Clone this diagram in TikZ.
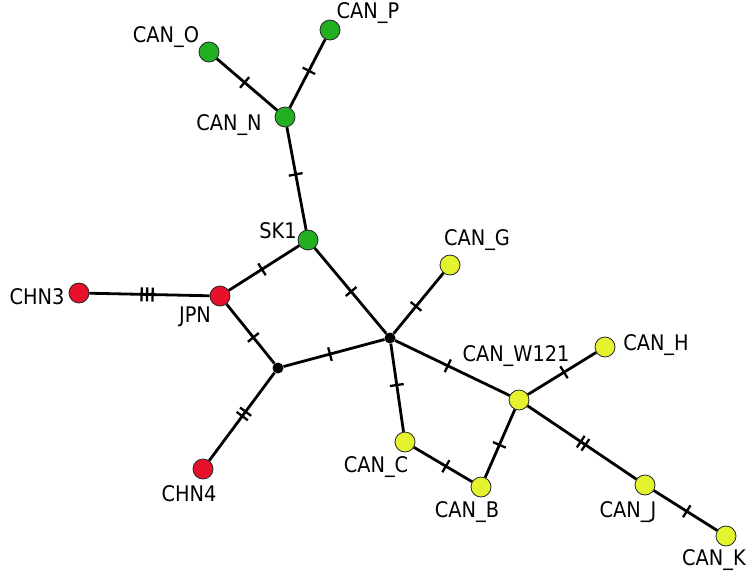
\documentclass[tikz,border=0pt]{standalone}
\usepackage{fontspec}
\setmainfont{DejaVu Sans Condensed}
\usetikzlibrary{decorations.markings}

\definecolor{hapgreen}{RGB}{34,176,34}
\definecolor{hapred}{RGB}{232,16,42}
\definecolor{hapyellow}{RGB}{229,242,46}

\tikzset{
  hap/.style={circle, draw=black!85, line width=0.8pt, minimum size=20pt, inner sep=0pt},
  hapG/.style={hap, fill=hapgreen},
  hapR/.style={hap, fill=hapred},
  hapY/.style={hap, fill=hapyellow},
  mv/.style={circle, fill=black, minimum size=11pt, inner sep=0pt},
  lbl/.style={inner sep=0pt, font=\fontsize{21.5}{25}\selectfont},
  edge/.style={line width=2.8pt},
  tickline/.style={line width=2.3pt},
  t1/.style={postaction={decorate, decoration={markings,
    mark=at position #1 with {\draw[tickline] (0,-7) -- (0,7);}}}},
  t2/.style={postaction={decorate, decoration={markings,
    mark=at position #1 with {\draw[tickline] (-2.8,-7) -- (-2.8,7) (2.8,-7) -- (2.8,7);}}}},
  t3/.style={postaction={decorate, decoration={markings,
    mark=at position #1 with {\draw[tickline] (-5.5,-7) -- (-5.5,7) (0,-7) -- (0,7) (5.5,-7) -- (5.5,7);}}}},
}

\begin{document}
\begin{tikzpicture}[x=1pt, y=-1pt]
\useasboundingbox (0,0) rectangle (750,574);

% haplotypes
\node[hapG] (canO) at (209,52) {};
\node[hapG] (canP) at (330,30) {};
\node[hapG] (canN) at (285,117) {};
\node[hapG] (sk1) at (308,240) {};
\node[hapR] (chn3) at (79,293) {};
\node[hapR] (jpn) at (220,296) {};
\node[hapR] (chn4) at (203,469) {};
\node[mv] (mv1) at (278,368) {};
\node[mv] (hub) at (390,338) {};
\node[hapY] (canG) at (450,265) {};
\node[hapY] (w121) at (519,400) {};
\node[hapY] (canH) at (605,347) {};
\node[hapY] (canC) at (405,442) {};
\node[hapY] (canB) at (481,487) {};
\node[hapY] (canJ) at (645,485) {};
\node[hapY] (canK) at (726,536) {};

% labels
\node[lbl] (lcanO) at (166,37) {CAN\_O};
\node[lbl] (lcanP) at (368,13) {CAN\_P};
\node[lbl] (lcanN) at (229,125) {CAN\_N};
\node[lbl] (lsk1) at (278,231) {SK1};
\node[lbl] (lchn3) at (37,297) {CHN3};
\node[lbl] (ljpn) at (195,317) {JPN};
\node[lbl] (lchn4) at (189,494) {CHN4};
\node[lbl] (lcanG) at (477,240) {CAN\_G};
\node[lbl] (lw121) at (516,356) {CAN\_W121};
\node[lbl] (lcanH) at (656,345) {CAN\_H};
\node[lbl] (lcanC) at (376,467) {CAN\_C};
\node[lbl] (lcanB) at (467,512) {CAN\_B};
\node[lbl] (lcanJ) at (628,512) {CAN\_J};
\node[lbl] (lcanK) at (714,560) {CAN\_K};

% links with mutation ticks
\draw[edge, t1=0.46] (canO) -- (canN);
\draw[edge, t1=0.54] (canN) -- (canP);
\draw[edge, t1=0.46] (canN) -- (sk1);
\draw[edge, t1=0.53] (sk1) -- (jpn);
\draw[edge, t1=0.51] (sk1) -- (hub);
\draw[edge, t3=0.48] (chn3) -- (jpn);
\draw[edge, t1=0.56] (jpn) -- (mv1);
\draw[edge, t1=0.46] (mv1) -- (hub);
\draw[edge, t2=0.47] (mv1) -- (chn4);
\draw[edge, t1=0.45] (hub) -- (canG);
\draw[edge, t1=0.46] (hub) -- (w121);
\draw[edge, t1=0.47] (hub) -- (canC);
\draw[edge, t1=0.55] (canC) -- (canB);
\draw[edge, t1=0.48] (canB) -- (w121);
\draw[edge, t1=0.53] (w121) -- (canH);
\draw[edge, t2=0.51] (w121) -- (canJ);
\draw[edge, t1=0.52] (canJ) -- (canK);
\end{tikzpicture}
\end{document}
